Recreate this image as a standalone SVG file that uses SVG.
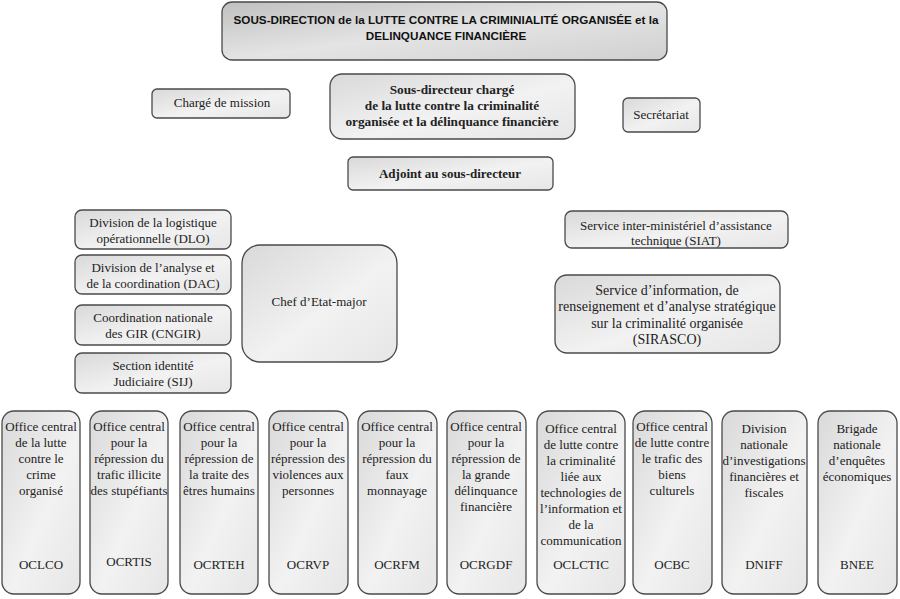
<svg xmlns="http://www.w3.org/2000/svg" width="900" height="599" viewBox="0 0 900 599">
<defs>
<linearGradient id="g" x1="0" y1="0" x2="1" y2="1">
<stop offset="0" stop-color="#d9d9d9"/>
<stop offset="0.55" stop-color="#f2f2f2"/>
<stop offset="1" stop-color="#e6e6e6"/>
</linearGradient>
<linearGradient id="gt" x1="0" y1="0" x2="1" y2="1">
<stop offset="0" stop-color="#c0c0c0"/>
<stop offset="0.5" stop-color="#e4e4e4"/>
<stop offset="1" stop-color="#d0d0d0"/>
</linearGradient>
</defs>
<style>
rect{fill:url(#g);stroke:#4a4a4a;stroke-width:1.3}
rect.t{fill:url(#gt)}
text{font-family:'Liberation Serif','Times New Roman',Tinos,'DejaVu Serif',serif;font-size:13px;fill:#222;text-anchor:middle}
text.b{font-weight:bold}
text.l{font-size:14px}
text.h{font-family:'Liberation Sans',Arial,Arimo,sans-serif;font-weight:bold;font-size:11.7px;fill:#111}
</style>
<rect width="900" height="599" style="fill:#fff;stroke:none"/>
<g id="title"><rect class="t" x="222" y="2" width="445" height="58" rx="10"/>
<text class="h" x="446" y="24">SOUS-DIRECTION de la LUTTE CONTRE LA CRIMINIALITÉ ORGANISÉE et la</text>
<text class="h" x="446" y="40">DELINQUANCE FINANCIÈRE</text></g>
<g id="charge"><rect x="152" y="89" width="138" height="29" rx="5"/><text x="222" y="107">Chargé de mission</text></g>
<g id="sousdir"><rect x="330" y="74" width="245" height="65" rx="12"/>
<text class="b" x="452" y="94" style="font-size:13.3px">Sous-directeur chargé</text>
<text class="b" x="452" y="110" style="font-size:13.3px">de la lutte contre la criminalité</text>
<text class="b" x="452" y="126" style="font-size:13.3px">organisée et la délinquance financière</text></g>
<g id="secretariat"><rect x="623" y="98" width="77" height="34" rx="5"/><text x="661" y="119">Secrétariat</text></g>
<g id="adjoint"><rect x="348" y="157" width="205" height="33" rx="5"/><text class="b" x="450" y="178">Adjoint au sous-directeur</text></g>
<g id="dlo"><rect x="75" y="210" width="156" height="39" rx="7"/><text x="153" y="227">Division de la logistique</text><text x="153" y="243">opérationnelle (DLO)</text></g>
<g id="dac"><rect x="75" y="255" width="156" height="39" rx="7"/><text x="153" y="272">Division de l’analyse et</text><text x="153" y="288">de la coordination (DAC)</text></g>
<g id="cngir"><rect x="75" y="305" width="156" height="40" rx="7"/><text x="153" y="322">Coordination nationale</text><text x="153" y="338">des GIR (CNGIR)</text></g>
<g id="sij"><rect x="75" y="353" width="156" height="40" rx="7"/><text x="153" y="370">Section identité</text><text x="153" y="386">Judiciaire (SIJ)</text></g>
<g id="chef"><rect x="242" y="245" width="155" height="117" rx="18"/><text x="319" y="306">Chef d’Etat-major</text></g>
<g id="siat"><rect x="565" y="211" width="223" height="37" rx="7"/><text x="676" y="230">Service inter-ministériel d’assistance</text><text x="676" y="245">technique (SIAT)</text></g>
<g id="sirasco"><rect x="555" y="275" width="225" height="78" rx="12"/>
<text class="l" x="667" y="295">Service d’information, de</text>
<text class="l" x="667" y="311">renseignement et d’analyse stratégique</text>
<text class="l" x="667" y="328">sur la criminalité organisée</text>
<text class="l" x="667" y="344">(SIRASCO)</text></g>
<g id="oclco"><rect x="2" y="411" width="78" height="183" rx="12"/>
<text x="41" y="431">Office central</text><text x="41" y="447">de la lutte</text><text x="41" y="463">contre le</text><text x="41" y="479">crime</text><text x="41" y="495">organisé</text><text x="41" y="569">OCLCO</text></g>
<g id="ocrtis"><rect x="90" y="411" width="78" height="183" rx="12"/>
<text x="129" y="431">Office central</text><text x="129" y="447">pour la</text><text x="129" y="463">répression du</text><text x="129" y="479">trafic illicite</text><text x="129" y="495">des stupéfiants</text><text x="129" y="566">OCRTIS</text></g>
<g id="ocrteh"><rect x="180" y="411" width="78" height="183" rx="12"/>
<text x="219" y="431">Office central</text><text x="219" y="447">pour la</text><text x="219" y="463">répression de</text><text x="219" y="479">la traite des</text><text x="219" y="495">êtres humains</text><text x="219" y="569">OCRTEH</text></g>
<g id="ocrvp"><rect x="269" y="411" width="79" height="183" rx="12"/>
<text x="308" y="431">Office central</text><text x="308" y="447">pour la</text><text x="308" y="463">répression des</text><text x="308" y="479">violences aux</text><text x="308" y="495">personnes</text><text x="308" y="569">OCRVP</text></g>
<g id="ocrfm"><rect x="358" y="411" width="79" height="183" rx="12"/>
<text x="397" y="431">Office central</text><text x="397" y="447">pour la</text><text x="397" y="463">répression du</text><text x="397" y="479">faux</text><text x="397" y="495">monnayage</text><text x="397" y="569">OCRFM</text></g>
<g id="ocrgdf"><rect x="447" y="411" width="79" height="183" rx="12"/>
<text x="486" y="431">Office central</text><text x="486" y="447">pour la</text><text x="486" y="463">répression de</text><text x="486" y="479">la grande</text><text x="486" y="495">délinquance</text><text x="486" y="511">financière</text><text x="486" y="569">OCRGDF</text></g>
<g id="oclctic"><rect x="537" y="411" width="88" height="183" rx="12"/>
<text x="581" y="433">Office central</text><text x="581" y="449">de lutte contre</text><text x="581" y="465">la criminalité</text><text x="581" y="481">liée aux</text><text x="581" y="497">technologies de</text><text x="581" y="513">l’information et</text><text x="581" y="529">de la</text><text x="581" y="545">communication</text><text x="581" y="569">OCLCTIC</text></g>
<g id="ocbc"><rect x="633" y="411" width="79" height="183" rx="12"/>
<text x="672" y="431">Office central</text><text x="672" y="447">de lutte contre</text><text x="672" y="463">le trafic des</text><text x="672" y="479">biens</text><text x="672" y="495">culturels</text><text x="672" y="569">OCBC</text></g>
<g id="dniff"><rect x="722" y="411" width="85" height="183" rx="12"/>
<text x="764" y="433">Division</text><text x="764" y="449">nationale</text><text x="764" y="465">d’investigations</text><text x="764" y="481">financières et</text><text x="764" y="497">fiscales</text><text x="764" y="569">DNIFF</text></g>
<g id="bnee"><rect x="818" y="411" width="79" height="183" rx="12"/>
<text x="857" y="433">Brigade</text><text x="857" y="449">nationale</text><text x="857" y="465">d’enquêtes</text><text x="857" y="481">économiques</text><text x="857" y="569">BNEE</text></g>
<g id="connectors"/>
</svg>
